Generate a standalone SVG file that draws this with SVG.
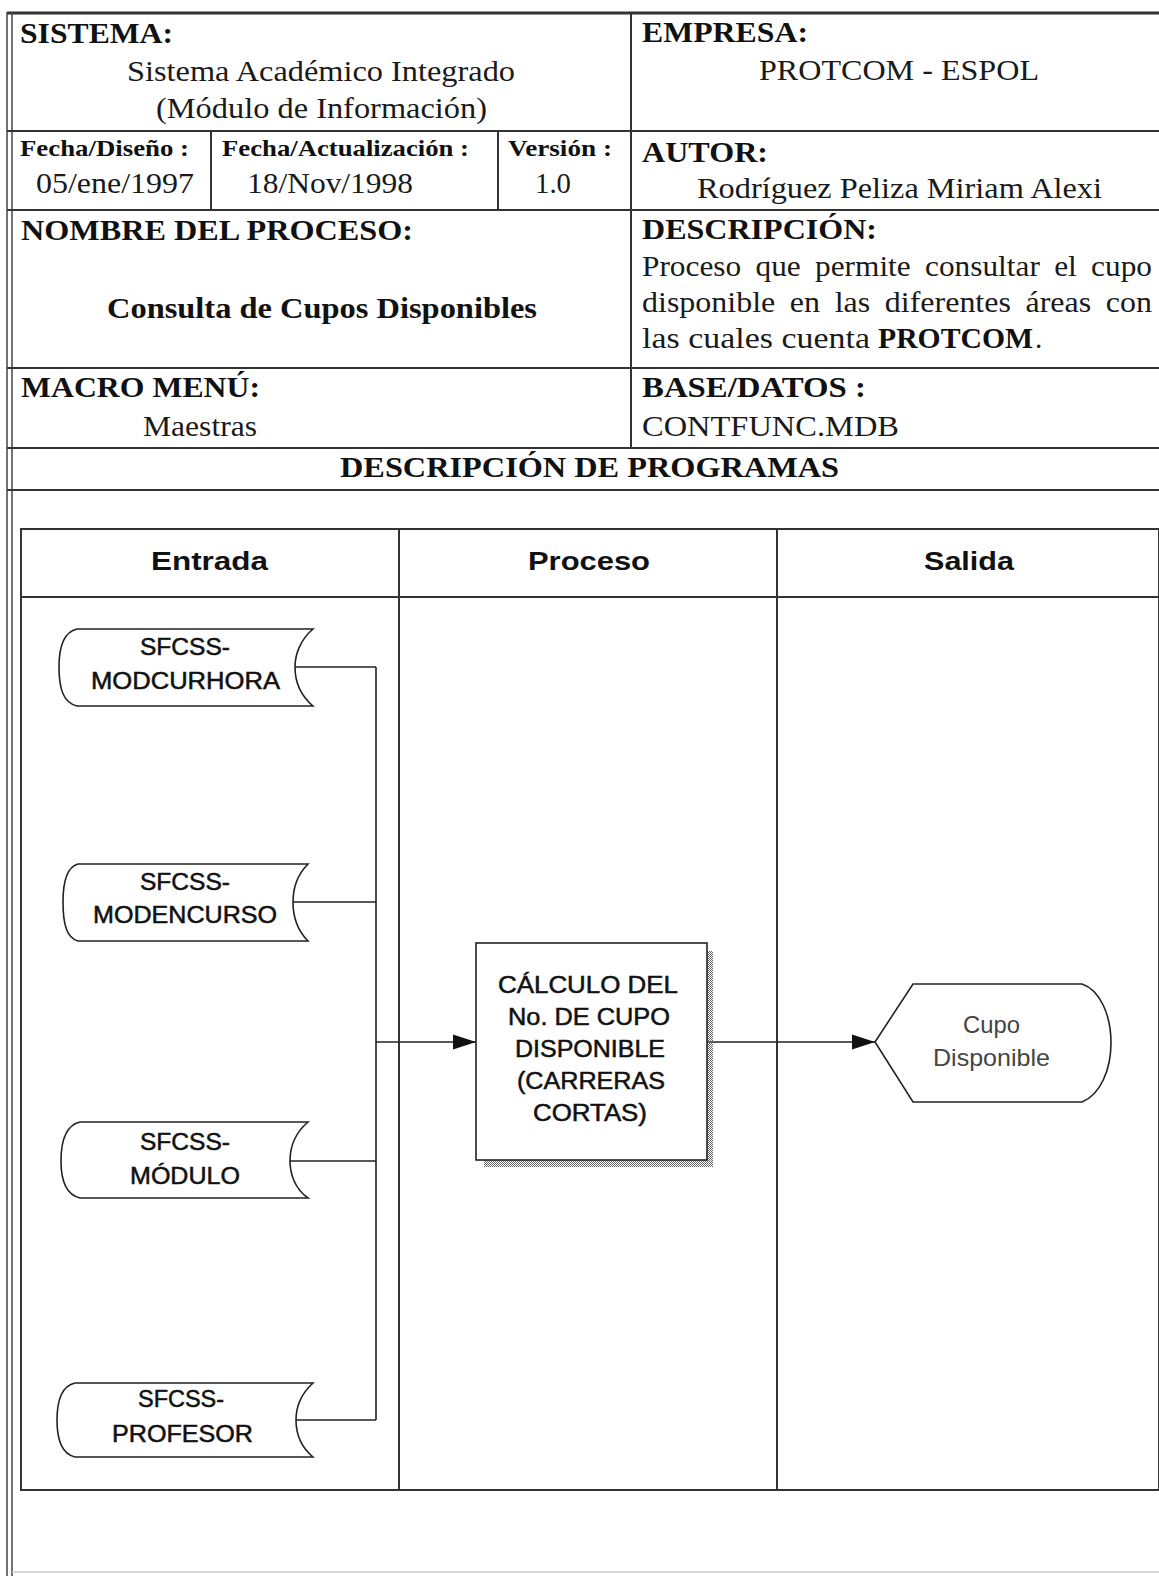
<svg xmlns="http://www.w3.org/2000/svg" width="1159" height="1576" viewBox="0 0 1159 1576">
<defs>
<style>
.ln{stroke:#333;stroke-width:2;fill:none}
.fl{stroke:#222;stroke-width:1.6;fill:none}
.sv{font-size:29px;fill:#1a1a1a}
.svb{font-size:29px;font-weight:bold;fill:#111}
.svs{font-size:24px;font-weight:bold;fill:#111}
.hd{font-size:26px;font-weight:bold;fill:#111}
.nd{font-size:23px;fill:#111;stroke:#111;stroke-width:0.5}
.out{font-size:24px;fill:#444}
.shape{fill:#fff;stroke:#222;stroke-width:1.6}
</style>
<pattern id="stip" width="2" height="2" patternUnits="userSpaceOnUse"><rect width="1" height="1" fill="#666"/><rect x="1" y="1" width="1" height="1" fill="#666"/></pattern>
<marker id="arr" markerWidth="24" markerHeight="16" refX="23" refY="8" orient="auto" markerUnits="userSpaceOnUse"><path d="M0,0.5 L23,8 L0,15.5 Z" fill="#111"/></marker>
</defs>
<rect width="1159" height="1576" fill="#fff"/>

<g id="frame">
<line x1="7" y1="13" x2="1159" y2="13" stroke="#333" stroke-width="3"/>
<line x1="7" y1="12" x2="7" y2="1576" stroke="#444" stroke-width="1.5"/>
<line x1="12" y1="12" x2="12" y2="1576" stroke="#444" stroke-width="1.5"/>
<line class="ln" x1="7" y1="131" x2="1159" y2="131"/>
<line class="ln" x1="7" y1="210" x2="1159" y2="210"/>
<line class="ln" x1="7" y1="368" x2="1159" y2="368"/>
<line class="ln" x1="7" y1="448" x2="1159" y2="448"/>
<line class="ln" x1="7" y1="490" x2="1159" y2="490"/>
<line class="ln" x1="631" y1="13" x2="631" y2="448"/>
<line class="ln" x1="211" y1="131" x2="211" y2="210"/>
<line class="ln" x1="498" y1="131" x2="498" y2="210"/>
<line x1="12" y1="1572" x2="1159" y2="1572" stroke="#ccc" stroke-width="1.5"/>
</g>

<g id="header-text" style="font-family:'Liberation Serif','Times New Roman',serif">
<text class="svb" x="20" y="43" textLength="153" lengthAdjust="spacingAndGlyphs">SISTEMA:</text>
<text class="sv" x="127" y="81" textLength="388" lengthAdjust="spacingAndGlyphs">Sistema Académico Integrado</text>
<text class="sv" x="156" y="118" textLength="331" lengthAdjust="spacingAndGlyphs">(Módulo de Información)</text>
<text class="svb" x="642" y="42" textLength="166" lengthAdjust="spacingAndGlyphs">EMPRESA:</text>
<text class="sv" x="759" y="80" textLength="280" lengthAdjust="spacingAndGlyphs">PROTCOM - ESPOL</text>
<text class="svs" x="20" y="156" textLength="169" lengthAdjust="spacingAndGlyphs">Fecha/Diseño :</text>
<text class="sv" x="36" y="193" textLength="158" lengthAdjust="spacingAndGlyphs">05/ene/1997</text>
<text class="svs" x="222" y="156" textLength="247" lengthAdjust="spacingAndGlyphs">Fecha/Actualización :</text>
<text class="sv" x="247" y="193" textLength="166" lengthAdjust="spacingAndGlyphs">18/Nov/1998</text>
<text class="svs" x="508" y="156" textLength="104" lengthAdjust="spacingAndGlyphs">Versión :</text>
<text class="sv" x="535" y="193" textLength="36" lengthAdjust="spacingAndGlyphs">1.0</text>
<text class="svb" x="642" y="162" textLength="126" lengthAdjust="spacingAndGlyphs">AUTOR:</text>
<text class="sv" x="697" y="198" textLength="405" lengthAdjust="spacingAndGlyphs">Rodríguez Peliza Miriam Alexi</text>
<text class="svb" x="21" y="240" textLength="392" lengthAdjust="spacingAndGlyphs">NOMBRE DEL PROCESO:</text>
<text class="svb" x="107" y="318" textLength="430" lengthAdjust="spacingAndGlyphs">Consulta de Cupos Disponibles</text>
<text class="svb" x="642" y="239" textLength="235" lengthAdjust="spacingAndGlyphs">DESCRIPCIÓN:</text>
<text class="sv" x="642" y="276" word-spacing="6" textLength="510" lengthAdjust="spacingAndGlyphs">Proceso que permite consultar el cupo</text>
<text class="sv" x="642" y="312" word-spacing="6" textLength="510" lengthAdjust="spacingAndGlyphs">disponible en las diferentes áreas con</text>
<text class="sv" x="642" y="348" textLength="228" lengthAdjust="spacingAndGlyphs">las cuales cuenta</text>
<text class="svb" x="878" y="348" textLength="155" lengthAdjust="spacingAndGlyphs">PROTCOM</text>
<text class="sv" x="1035" y="348">.</text>
<text class="svb" x="21" y="397" textLength="239" lengthAdjust="spacingAndGlyphs">MACRO MENÚ:</text>
<text class="sv" x="143" y="436" textLength="114" lengthAdjust="spacingAndGlyphs">Maestras</text>
<text class="svb" x="642" y="397" textLength="224" lengthAdjust="spacingAndGlyphs">BASE/DATOS :</text>
<text class="sv" x="642" y="436" textLength="257" lengthAdjust="spacingAndGlyphs">CONTFUNC.MDB</text>
<text class="svb" x="340" y="477" textLength="499" lengthAdjust="spacingAndGlyphs">DESCRIPCIÓN DE PROGRAMAS</text>
</g>

<g id="swimlanes" style="font-family:'Liberation Sans',Arial,sans-serif">
<rect class="ln" x="21" y="529" width="1138" height="961"/>
<line class="ln" x1="21" y1="597" x2="1159" y2="597"/>
<line class="ln" x1="399" y1="529" x2="399" y2="1490"/>
<line class="ln" x1="777" y1="529" x2="777" y2="1490"/>
<text class="hd" x="151" y="570" textLength="117" lengthAdjust="spacingAndGlyphs">Entrada</text>
<text class="hd" x="528" y="570" textLength="122" lengthAdjust="spacingAndGlyphs">Proceso</text>
<text class="hd" x="924" y="570" textLength="90" lengthAdjust="spacingAndGlyphs">Salida</text>
</g>

<g id="connectors">
<line class="fl" x1="376" y1="667" x2="376" y2="1420"/>
<line class="fl" x1="295" y1="667" x2="376" y2="667"/>
<line class="fl" x1="293" y1="902" x2="376" y2="902"/>
<line class="fl" x1="290" y1="1161" x2="376" y2="1161"/>
<line class="fl" x1="296" y1="1420" x2="376" y2="1420"/>
<line class="fl" x1="376" y1="1042" x2="476" y2="1042" marker-end="url(#arr)"/>
<line class="fl" x1="707" y1="1042" x2="875" y2="1042" marker-end="url(#arr)"/>
</g>

<g id="ds-modcurhora" style="font-family:'Liberation Sans',Arial,sans-serif">
<path class="shape" d="M77,629 L313,629 C300,640 295,655 295,667 C295,680 300,695 313,706 L77,706 C64,703 59,690 59,667 C59,645 64,632 77,629 Z"/>
<text class="nd" x="140" y="655" textLength="90" lengthAdjust="spacingAndGlyphs">SFCSS-</text>
<text class="nd" x="91" y="689" textLength="189" lengthAdjust="spacingAndGlyphs">MODCURHORA</text>
</g>

<g id="ds-modencurso" style="font-family:'Liberation Sans',Arial,sans-serif">
<path class="shape" d="M78,864 L308,864 C297,875 293,890 293,902 C293,915 297,930 308,941 L78,941 C67,938 63,925 63,902 C63,880 67,867 78,864 Z"/>
<text class="nd" x="140" y="890" textLength="90" lengthAdjust="spacingAndGlyphs">SFCSS-</text>
<text class="nd" x="93" y="923" textLength="184" lengthAdjust="spacingAndGlyphs">MODENCURSO</text>
</g>

<g id="ds-modulo" style="font-family:'Liberation Sans',Arial,sans-serif">
<path class="shape" d="M80,1122 L308,1122 C295,1133 290,1148 290,1161 C290,1174 295,1189 308,1198 L80,1198 C67,1195 61,1182 61,1161 C61,1140 67,1125 80,1122 Z"/>
<text class="nd" x="140" y="1150" textLength="90" lengthAdjust="spacingAndGlyphs">SFCSS-</text>
<text class="nd" x="130" y="1184" textLength="110" lengthAdjust="spacingAndGlyphs">MÓDULO</text>
</g>

<g id="ds-profesor" style="font-family:'Liberation Sans',Arial,sans-serif">
<path class="shape" d="M75,1383 L313,1383 C301,1394 296,1408 296,1420 C296,1433 301,1447 313,1457 L75,1457 C62,1454 57,1441 57,1420 C57,1400 62,1386 75,1383 Z"/>
<text class="nd" x="138" y="1407" textLength="86" lengthAdjust="spacingAndGlyphs">SFCSS-</text>
<text class="nd" x="112" y="1442" textLength="141" lengthAdjust="spacingAndGlyphs">PROFESOR</text>
</g>

<g id="process" style="font-family:'Liberation Sans',Arial,sans-serif">
<path d="M707,951 H713 V1167 H484 V1160 H707 Z" fill="url(#stip)"/>
<rect class="shape" x="476" y="943" width="231" height="217"/>
<text class="nd" x="498" y="993" textLength="180" lengthAdjust="spacingAndGlyphs">CÁLCULO DEL</text>
<text class="nd" x="508" y="1025" textLength="162" lengthAdjust="spacingAndGlyphs">No. DE CUPO</text>
<text class="nd" x="515" y="1057" textLength="150" lengthAdjust="spacingAndGlyphs">DISPONIBLE</text>
<text class="nd" x="517" y="1089" textLength="148" lengthAdjust="spacingAndGlyphs">(CARRERAS</text>
<text class="nd" x="533" y="1121" textLength="114" lengthAdjust="spacingAndGlyphs">CORTAS)</text>
</g>

<g id="output" style="font-family:'Liberation Sans',Arial,sans-serif">
<path class="shape" d="M875,1042 L913,984 L1082,984 C1100,990 1111,1015 1111,1043 C1111,1070 1100,1095 1082,1102 L913,1102 Z"/>
<text class="out" x="963" y="1033" textLength="57" lengthAdjust="spacingAndGlyphs">Cupo</text>
<text class="out" x="933" y="1066" textLength="117" lengthAdjust="spacingAndGlyphs">Disponible</text>
</g>
</svg>
